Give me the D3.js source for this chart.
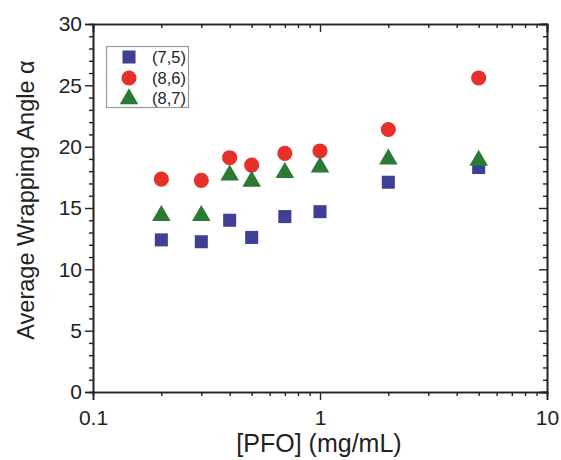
<!DOCTYPE html>
<html><head><meta charset="utf-8">
<script src="https://cdn.jsdelivr.net/npm/d3@7"></script>
<style>body{margin:0;background:#fff}svg{display:block;font-family:"Liberation Sans",Arial,sans-serif}</style>
</head><body><svg id="c" width="561" height="460"></svg>
<script>
const pfo = [0.2, 0.3, 0.4, 0.5, 0.7, 1, 2, 5];
const s75 = [12.4, 12.25, 14.0, 12.6, 14.3, 14.7, 17.1, 18.3];
const s86 = [17.35, 17.25, 19.1, 18.5, 19.45, 19.65, 21.4, 25.6];
const s87 = [14.5, 14.5, 17.8, 17.3, 18.0, 18.45, 19.1, 19.0];
const seriesNames = ["(7,5)", "(8,6)", "(8,7)"];
const yTicks = [0, 5, 10, 15, 20, 25, 30];
const xTicks = [0.1, 1, 10];

const svg = d3.select("#c");
const L = 93, R = 547, T = 24, B = 392;
const x = d3.scaleLog().domain([0.1, 10]).range([L, R]);
const y = d3.scaleLinear().domain([0, 30]).range([B, T]);

const minorX = [];
for (let d = 0.1; d < 10; d *= 10) for (let k = 2; k <= 9; k++) minorX.push(+(d * k).toFixed(3));
const minorY = d3.range(0, 31, 1).filter(v => v % 5 !== 0);

const axisCol = "#222";
const gB = svg.append("g").attr("transform", `translate(0,${B})`);
gB.call(d3.axisBottom(x).tickValues(xTicks).tickFormat(d3.format("")).tickSize(8).tickPadding(7));
gB.append("g").call(d3.axisBottom(x).tickValues(minorX).tickSize(4).tickFormat(""));
const gT = svg.append("g").attr("transform", `translate(0,${T})`);
gT.call(d3.axisBottom(x).tickValues(xTicks).tickSize(8).tickFormat(""));
gT.append("g").call(d3.axisBottom(x).tickValues(minorX).tickSize(4).tickFormat(""));
const gL = svg.append("g").attr("transform", `translate(${L},0)`);
gL.call(d3.axisLeft(y).tickValues(yTicks).tickSize(8).tickPadding(3));
gL.append("g").call(d3.axisLeft(y).tickValues(minorY).tickSize(4).tickFormat(""));
const gR = svg.append("g").attr("transform", `translate(${R},0)`);
gR.call(d3.axisLeft(y).tickValues(yTicks).tickSize(8).tickFormat(""));
gR.append("g").call(d3.axisLeft(y).tickValues(minorY).tickSize(4).tickFormat(""));

svg.selectAll(".domain").attr("stroke", axisCol).attr("stroke-width", 1.6);
svg.selectAll(".tick line").attr("stroke", axisCol).attr("stroke-width", 1.4);
svg.selectAll(".tick text").attr("font-size", 21).attr("fill", "#222").attr("font-family", "Liberation Sans, Arial, sans-serif");
gB.selectAll(".tick text").attr("dy", "0.85em");

svg.append("text").attr("x", (L + R) / 2 - 1).attr("y", 452).attr("text-anchor", "middle")
  .attr("font-size", 25).attr("fill", "#222").text("[PFO] (mg/mL)");
svg.append("text").attr("transform", `translate(34,${(T + B) / 2 - 8}) rotate(-90)`).attr("text-anchor", "middle")
  .attr("font-size", 23.5).attr("fill", "#222").text("Average Wrapping Angle α");

const colors = ["#3f3f94", "#e8302b", "#2a7a36"];
const shapes = [d3.symbolSquare, d3.symbolCircle, d3.symbolTriangle];
const sizes = [170, 180, 150];
const data = [s75, s86, s87];

data.forEach((vals, i) => {
  svg.append("g").selectAll("path").data(pfo.map((p, j) => [p, vals[j]])).join("path")
    .attr("d", d3.symbol(shapes[i], sizes[i]))
    .attr("transform", d => `translate(${x(d[0])},${y(d[1]) + (i === 2 ? 1.5 : 0)})`)
    .attr("fill", colors[i]);
});

const lg = svg.append("g");
lg.append("rect").attr("x", 106.5).attr("y", 46.5).attr("width", 82).attr("height", 61)
  .attr("fill", "none").attr("stroke", "#999").attr("stroke-width", 1.2);
const ly = [57, 78, 98];
seriesNames.forEach((n, i) => {
  lg.append("path").attr("d", d3.symbol(shapes[i], sizes[i]))
    .attr("transform", `translate(129,${ly[i] + (i === 2 ? 1 : 0)})`).attr("fill", colors[i]);
  lg.append("text").attr("x", 152).attr("y", ly[i]).attr("dy", "0.36em")
    .attr("font-size", 16.5).attr("fill", "#222").text(n);
});
</script></body></html>
